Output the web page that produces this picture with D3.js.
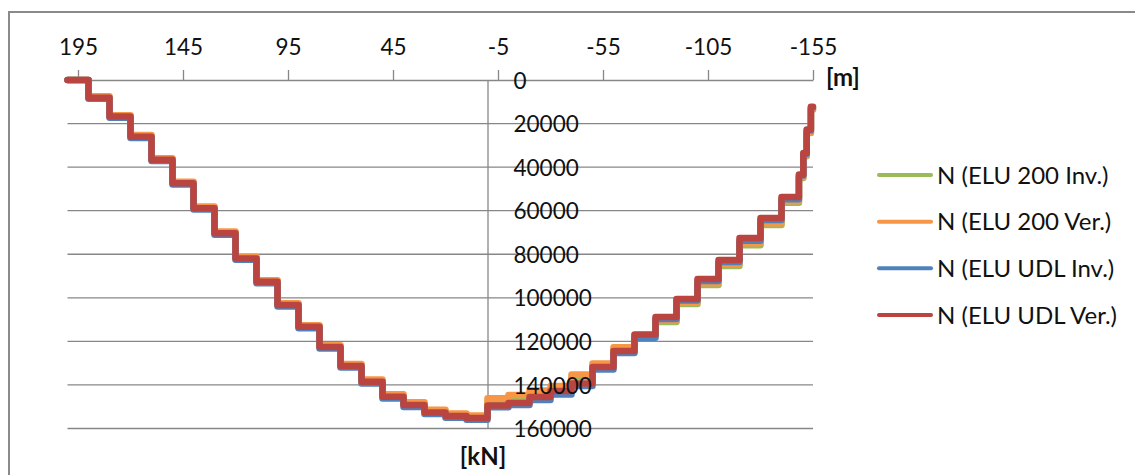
<!DOCTYPE html>
<html>
<head>
<meta charset="utf-8">
<script src="https://cdn.jsdelivr.net/npm/d3@7"></script>
<style>
  html, body { margin: 0; padding: 0; background: #fff; }
  svg { display: block; font-family: Lato, "Open Sans", sans-serif; }
</style>
</head>
<body>
<svg id="chart" width="1135" height="475"></svg>
<script>
// Chainage boundaries [m] where the axial force steps (shared by all load cases)
const stations = [200, 190, 180, 170, 160, 150, 140, 130, 120, 110, 100, 90, 80, 70, 60, 50, 40, 30, 20, 10, 0,
                  -10, -20, -30, -40, -50, -60, -70, -80, -90, -100, -110, -120, -130, -140, -148.3, -150.4, -152, -154, -155];

// Axial force N [kN] on each segment between consecutive stations
const elu200Inv = [0, 7800, 16500, 25700, 36300, 47100, 58500, 70000, 81500, 92200, 102900, 112900, 122200, 130900, 138000, 144900, 148600, 152000, 153700, 154600,
                   147700, 146100, 144200, 142000, 136500, 131100, 123500, 117500, 111100, 102800, 94100, 85400, 75900, 66600, 56300, 45000, 35000, 24300, 13600];
const elu200Ver = [0, 7500, 16200, 25300, 35900, 46700, 58100, 69600, 81200, 91900, 102500, 112600, 121800, 130400, 137500, 144300, 147900, 151400, 153100, 154000,
                   146100, 144600, 142600, 140500, 135200, 130200, 122700, 117100, 110500, 102200, 93300, 84500, 75000, 65800, 55700, 44700, 34800, 24200, 13500];
const eluUdlInv = [0, 8600, 17300, 26600, 37200, 48000, 59500, 71000, 82500, 93300, 104000, 114000, 123300, 132000, 139300, 146200, 150100, 153400, 155100, 156000,
                   150300, 149200, 146900, 144400, 140500, 132900, 125300, 118300, 109700, 101200, 92300, 83600, 73800, 64300, 54800, 43800, 34000, 23200, 12600];
const eluUdlVer = [0, 8100, 16800, 26000, 36600, 47400, 58900, 70400, 81900, 92600, 103300, 113300, 122600, 131300, 138500, 145400, 149200, 152600, 154300, 155200,
                   149400, 148300, 145500, 142800, 139300, 131800, 124400, 116800, 108800, 100500, 91400, 82600, 72500, 63400, 53700, 43400, 33500, 22700, 12300];

const seriesNames = ["N (ELU 200 Inv.)", "N (ELU 200 Ver.)", "N (ELU UDL Inv.)", "N (ELU UDL Ver.)"];
const seriesColors = ["#9BBB59", "#F79646", "#4F81BD", "#BA4540"];
const seriesValues = [elu200Inv, elu200Ver, eluUdlInv, eluUdlVer];

const xTicks = [195, 145, 95, 45, -5, -55, -105, -155];
const xTickLabels = ["195", "145", "95", "45", "-5", "-55", "-105", "-155"];
const yTicks = [0, 20000, 40000, 60000, 80000, 100000, 120000, 140000, 160000];
const yTickLabels = ["0", "20000", "40000", "60000", "80000", "100000", "120000", "140000", "160000"];

const svg = d3.select("#chart");
const grid = "#878787";
const textColor = "#111";
const font = "Lato, 'Open Sans', sans-serif";

// Outer chart frame (runs past the right and bottom edges)
svg.append("rect")
  .attr("x", 9).attr("y", 12)
  .attr("width", 1140).attr("height", 480)
  .attr("fill", "#fff")
  .attr("stroke", "#8a8a8a").attr("stroke-width", 2);

const x = d3.scaleLinear().domain([200, -155]).range([67.5, 813]);
const y = d3.scaleLinear().domain([0, 160000]).range([80, 428.5]);

// Horizontal gridlines
svg.append("g").selectAll("line")
  .data(yTicks.slice(1))
  .join("line")
  .attr("x1", x(200)).attr("x2", x(-155))
  .attr("y1", d => y(d)).attr("y2", d => y(d))
  .attr("stroke", grid).attr("stroke-width", 1.3);

// Top (distance) axis
const xAxis = svg.append("g")
  .attr("transform", `translate(0,${y(0)})`)
  .call(d3.axisTop(x).tickValues(xTicks)
    .tickFormat((d, i) => xTickLabels[i])
    .tickSize(10).tickSizeOuter(0).tickPadding(15));
xAxis.select(".domain").attr("stroke", grid).attr("stroke-width", 1.3);
xAxis.selectAll(".tick line").attr("stroke", grid).attr("stroke-width", 1.3);
xAxis.selectAll(".tick text")
  .attr("fill", textColor)
  .style("font-size", "22.5px")
  .style("font-family", font);

// Vertical axis line at x = 0 (sits beneath the curves)
const yAxisLine = svg.append("g")
  .attr("transform", `translate(${x(0)},0)`)
  .call(d3.axisRight(y).tickValues([]).tickSizeOuter(0));
yAxisLine.select(".domain").attr("stroke", grid).attr("stroke-width", 1.3);

// Stepped force diagrams
const line = d3.line()
  .x(d => x(d[0]))
  .y(d => y(d[1]))
  .curve(d3.curveStepAfter);

seriesValues.forEach((vals, k) => {
  const pts = stations.map((s, i) => [s, vals[Math.min(i, vals.length - 1)]]);
  svg.append("path")
    .datum(pts)
    .attr("d", line)
    .attr("fill", "none")
    .attr("stroke", seriesColors[k])
    .attr("stroke-width", 6.5)
    .attr("stroke-linejoin", "round")
    .attr("stroke-linecap", "round");
});

// Force tick labels, drawn over the curves
const yAxis = svg.append("g")
  .attr("transform", `translate(${x(0)},0)`)
  .call(d3.axisRight(y).tickValues(yTicks)
    .tickFormat((d, i) => yTickLabels[i])
    .tickSize(0).tickSizeOuter(0).tickPadding(26));
yAxis.select(".domain").remove();
yAxis.selectAll(".tick text")
  .attr("fill", textColor)
  .attr("dy", "0.36em")
  .style("font-size", "22.5px")
  .style("font-family", font);

// Unit labels
svg.append("text")
  .attr("x", 826).attr("y", 78).attr("dy", "0.35em")
  .attr("fill", textColor)
  .style("font-size", "24px").style("font-weight", "bold")
  .text("[m]");
svg.append("text")
  .attr("x", 483).attr("y", 457).attr("dy", "0.35em")
  .attr("text-anchor", "middle")
  .attr("fill", textColor)
  .style("font-size", "24px").style("font-weight", "bold")
  .text("[kN]");

// Legend
const legendY = [175, 221.7, 268.3, 315];
const legend = svg.append("g");
seriesNames.forEach((name, k) => {
  legend.append("line")
    .attr("x1", 879).attr("x2", 931)
    .attr("y1", legendY[k]).attr("y2", legendY[k])
    .attr("stroke", seriesColors[k])
    .attr("stroke-width", 4)
    .attr("stroke-linecap", "round");
  legend.append("text")
    .attr("x", 937).attr("y", legendY[k]).attr("dy", "0.36em")
    .attr("fill", textColor)
    .style("font-size", "24px")
    .text(name);
});
</script>
</body>
</html>
